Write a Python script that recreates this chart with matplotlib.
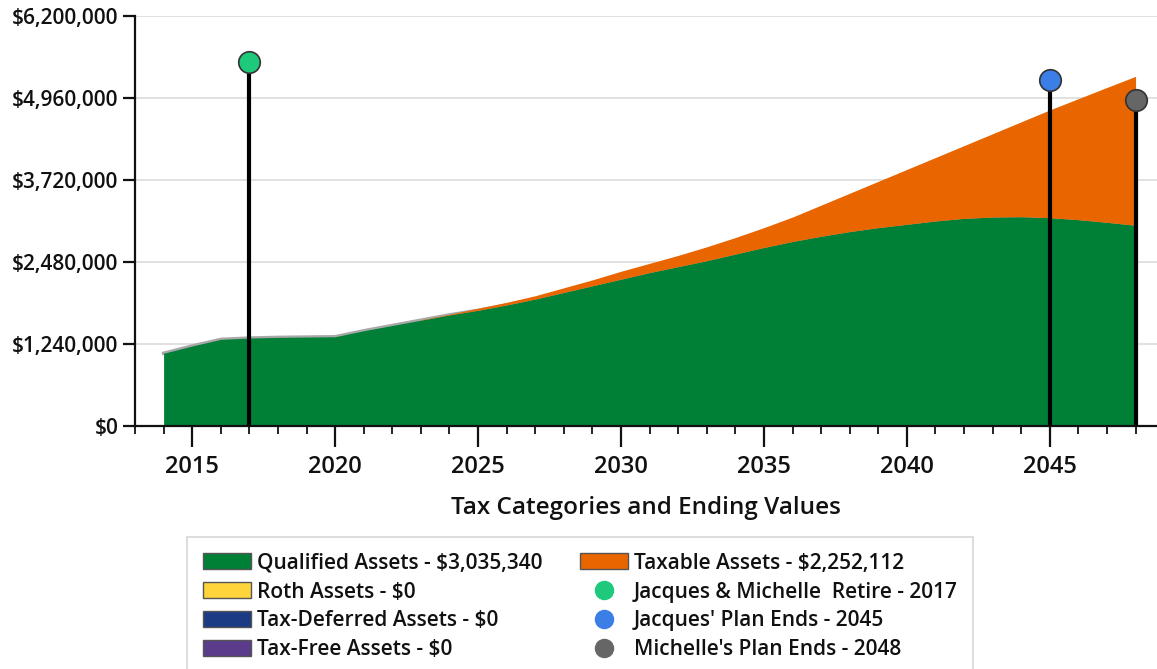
import matplotlib.pyplot as plt
import matplotlib.ticker as mticker
from matplotlib.patches import Patch
from matplotlib.lines import Line2D
import numpy as np

years = np.arange(2014, 2049)

# values in $ millions
qualified = [1.10, 1.21, 1.31, 1.33, 1.34, 1.345, 1.35, 1.44, 1.52, 1.60,
             1.68, 1.75, 1.83, 1.92, 2.02, 2.12, 2.22, 2.32, 2.41, 2.50,
             2.60, 2.70, 2.79, 2.87, 2.94, 3.00, 3.05, 3.10, 3.14, 3.16,
             3.165, 3.15, 3.12, 3.08, 3.03534]
taxable = [0, 0, 0, 0, 0, 0, 0, 0, 0, 0.005,
           0.01, 0.03, 0.04, 0.05, 0.07, 0.09, 0.12, 0.14, 0.17, 0.21,
           0.25, 0.30, 0.37, 0.47, 0.58, 0.70, 0.83, 0.96, 1.10, 1.26,
           1.435, 1.63, 1.83, 2.04, 2.252112]

event_years = [2017, 2045, 2048]
event_heights = [5.50, 5.23, 4.93]
event_colors = ['#1ec97c', '#3a7ee6', '#666666']
event_labels = ['Jacques & Michelle  Retire - 2017',
                "Jacques' Plan Ends - 2045",
                "Michelle's Plan Ends - 2048"]

yticks = [0, 1.24, 2.48, 3.72, 4.96, 6.2]

green = '#007f36'
orange = '#e96500'

plt.rcParams['font.family'] = ['Open Sans', 'DejaVu Sans']

fig = plt.figure(figsize=(11.57, 6.69), dpi=100)
ax = fig.add_axes([135/1157, 1 - 426/669, 1 - 135/1157, 410/669])

q = np.array(qualified) * 1e6
t = np.array(taxable) * 1e6
total = q + t

# grey edge of the zero-valued stacks, only visible where taxable is empty
ax.plot(years, q, color='#a8a8a8', lw=2.5, zorder=1)
ax.fill_between(years, 0, q, color=green, lw=0, zorder=2)
ax.fill_between(years, q, total, where=t > 0, color=orange, lw=0, zorder=2)

for yr, h, c in zip(event_years, event_heights, event_colors):
    ax.vlines(yr, 0, h * 1e6, color='black', lw=3, zorder=3)
    ax.plot(yr, h * 1e6, 'o', ms=15.5, mfc=c, mec='#333333', mew=1.2, zorder=4)

ax.set_xlim(2013, 2048.75)
ax.set_ylim(0, 6.2e6)
ax.set_yticks([v * 1e6 for v in yticks])
ax.yaxis.set_major_formatter(mticker.FuncFormatter(lambda v, p: '${:,.0f}'.format(v)))
ax.xaxis.set_major_locator(mticker.MultipleLocator(5))
ax.xaxis.set_minor_locator(mticker.MultipleLocator(1))
ax.grid(axis='y', color='#dcdcdc', lw=1.2, zorder=0)
ax.set_axisbelow(True)

for s in ['top', 'right']:
    ax.spines[s].set_visible(False)
for s in ['left', 'bottom']:
    ax.spines[s].set_linewidth(1.6)
    ax.spines[s].set_color('#111111')

ax.tick_params(axis='y', length=9, width=1.6, labelsize=15, pad=3, colors='#111111')
ax.tick_params(axis='x', which='major', length=15, width=1.6, labelsize=17, pad=6, colors='#111111')
ax.tick_params(axis='x', which='minor', length=6, width=1.3, colors='#111111')
for lab in ax.get_yticklabels() + ax.get_xticklabels():
    lab.set_fontweight('semibold')

ax.set_xlabel('Tax Categories and Ending Values', fontsize=17.5, fontweight='semibold',
              labelpad=12, color='#111111')

handles = [
    Patch(fc=green, ec='#555555', label='Qualified Assets - $3,035,340'),
    Patch(fc='#ffd43b', ec='#555555', label='Roth Assets - $0'),
    Patch(fc='#1b3c85', ec='#555555', label='Tax-Deferred Assets - $0'),
    Patch(fc='#5b3b8c', ec='#555555', label='Tax-Free Assets - $0'),
    Patch(fc=orange, ec='#555555', label='Taxable Assets - $2,252,112'),
]
for c, lab in zip(event_colors, event_labels):
    handles.append(Line2D([], [], marker='o', ls='none', ms=13, mfc=c, mec=c, label=lab))

leg = fig.legend(handles=handles, ncol=2, loc='upper left',
                 bbox_to_anchor=(187/1157, 1 - 537/669),
                 frameon=True, fancybox=False, edgecolor='#cccccc',
                 prop={'size': 15, 'weight': 'semibold'},
                 handlelength=2.3, handleheight=0.8, handletextpad=0.3,
                 columnspacing=1.8, labelspacing=0.38, borderpad=0.75,
                 borderaxespad=0)
leg.get_frame().set_linewidth(1.2)
for txt in leg.get_texts():
    txt.set_color('#111111')

fig.savefig('out.png', dpi=100)
